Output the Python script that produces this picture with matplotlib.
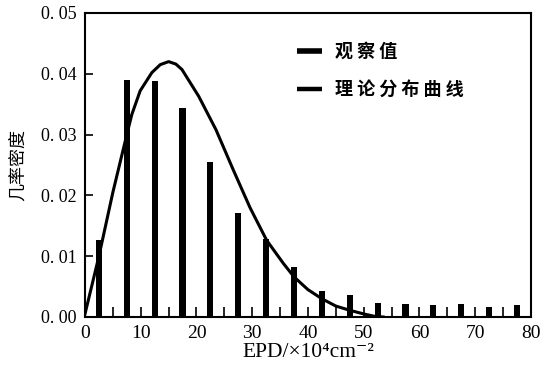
import matplotlib
matplotlib.use("Agg")
import matplotlib.pyplot as plt
from matplotlib.lines import Line2D

# observed values (bar centres and probability density)
bar_x = [2.5, 7.5, 12.5, 17.5, 22.5, 27.5, 32.5, 37.5, 42.5, 47.5,
         52.5, 57.5, 62.5, 67.5, 72.5, 77.5]
bar_y = [0.0127, 0.0389, 0.0388, 0.0343, 0.0255, 0.0171, 0.0128, 0.0083,
         0.0043, 0.0036, 0.0023, 0.0021, 0.0020, 0.0021, 0.0017, 0.0020]

# theoretical distribution curve
curve_x = [0, 2.5, 5, 7.5, 8.4, 9.9, 12, 13.5, 15, 16.3, 17.4, 20.4, 23.5,
           26.6, 29.6, 32.6, 35.6, 37.5, 40, 42.5, 45, 47.5, 50, 52, 53.5]
curve_y = [0.0005, 0.0100, 0.0205, 0.0300, 0.0333, 0.0372, 0.0402, 0.0415,
           0.0420, 0.0416, 0.0407, 0.0363, 0.0308, 0.0242, 0.0180, 0.0126,
           0.0088, 0.0066, 0.0045, 0.0030, 0.0018, 0.0011, 0.0005, 0.0001,
           0.0]

x_ticks = [0, 10, 20, 30, 40, 50, 60, 70, 80]
y_ticks = [0.00, 0.01, 0.02, 0.03, 0.04, 0.05]
y_labels = ["0. 00", "0. 01", "0. 02", "0. 03", "0. 04", "0. 05"]

serif = ["Liberation Serif", "DejaVu Serif"]
cjk = ["Noto Sans CJK SC", "DejaVu Sans"]

fig = plt.figure(figsize=(5.53, 3.71), dpi=100)
ax = fig.add_axes([0.1537, 0.1456, 0.8063, 0.8194])

ax.bar(bar_x, bar_y, width=1.1, color="black", zorder=2)
ax.plot(curve_x, curve_y, color="black", lw=2.2, zorder=3)

ax.set_xlim(0, 80)
ax.set_ylim(0, 0.05)
ax.set_xticks(x_ticks)
ax.set_xticks(range(5, 80, 10), minor=True)
ax.set_yticks(y_ticks)
ax.set_yticklabels(y_labels)
for lab in ax.get_xticklabels():
    lab.set_family(serif)
    lab.set_fontsize(14)
for lab in ax.get_yticklabels():
    lab.set_family(serif)
    lab.set_fontsize(13)

ax.tick_params(axis="x", which="both", direction="in", length=7.5, width=1.2,
               pad=6, top=False)
ax.tick_params(axis="y", direction="in", length=6, width=1.2, pad=6,
               right=False)
for sp in ax.spines.values():
    sp.set_linewidth(1.5)
    sp.set_color("black")

ax.set_xlabel("EPD/×10⁴cm⁻²", family=serif, fontsize=15.5)
ax.xaxis.set_label_coords(0.5, -0.085)
ax.set_ylabel("几率密度", family=cjk, fontsize=13)
ax.yaxis.set_label_coords(-0.13, 0.5)

handles = [Line2D([], [], color="black", lw=4, solid_capstyle="butt"),
           Line2D([], [], color="black", lw=3.2, solid_capstyle="butt")]
ax.legend(handles, ["观 察 值", "理 论 分 布 曲 线"], frameon=False,
          prop={"family": cjk, "size": 13, "weight": "bold"},
          loc="upper left", bbox_to_anchor=(0.475, 0.905),
          handlelength=1.4, handletextpad=0.72, labelspacing=1.05,
          borderaxespad=0, borderpad=0)

fig.savefig("out.png", dpi=100)
